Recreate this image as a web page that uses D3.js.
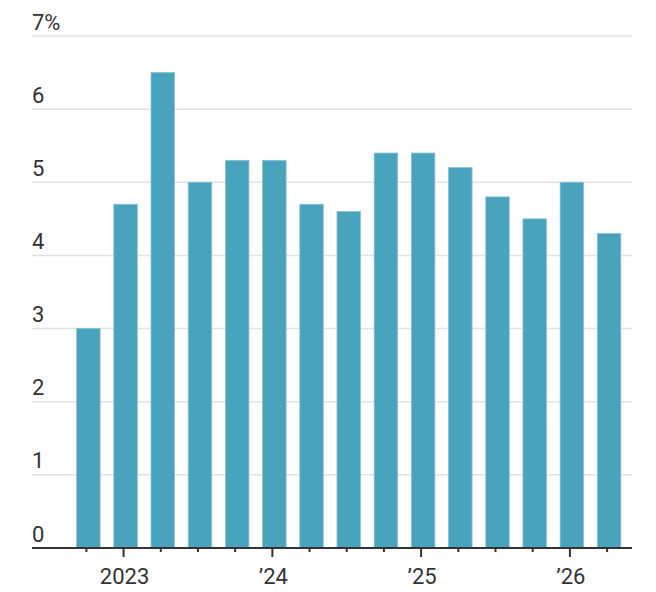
<!DOCTYPE html>
<html>
<head>
<meta charset="utf-8">
<script src="https://cdn.jsdelivr.net/npm/d3@7"></script>
<style>
  html, body { margin: 0; padding: 0; background: #fff; }
  svg { display: block; }
  text { font-family: Roboto, Lato, "Noto Sans", sans-serif; fill: #333; }
</style>
</head>
<body>
<svg id="chart" width="656" height="592"></svg>
<script>
// Quarterly values, Q4 2022 through Q2 2026
const quarters = ["2022Q4","2023Q1","2023Q2","2023Q3","2023Q4","2024Q1","2024Q2","2024Q3","2024Q4","2025Q1","2025Q2","2025Q3","2025Q4","2026Q1","2026Q2"];
const values = [3.0, 4.7, 6.5, 5.0, 5.3, 5.3, 4.7, 4.6, 5.4, 5.4, 5.2, 4.8, 4.5, 5.0, 4.3];
const yTicks = [0, 1, 2, 3, 4, 5, 6, 7];
const yearLabels = { "2023Q1": "2023", "2024Q1": "\u201924", "2025Q1": "\u201925", "2026Q1": "\u201926" };

(function () {
const svg = d3.select("#chart");
const pl = 32, pr = 632, pt = 36, pb = 548;

const x = d3.scaleBand()
  .domain(quarters)
  .range([pl, pr])
  .paddingInner(0.368)
  .paddingOuter(0.75)
  .align(0.8);

const y = d3.scaleLinear().domain([0, 7]).range([pb, pt]);

// gridlines
svg.append("g").selectAll("line")
  .data(yTicks.filter(d => d > 0))
  .join("line")
  .attr("x1", pl).attr("x2", pr)
  .attr("y1", d => y(d)).attr("y2", d => y(d))
  .attr("stroke", "#e2e2e2").attr("stroke-width", 1.5);

// y labels
svg.append("g").selectAll("text")
  .data(yTicks)
  .join("text")
  .attr("x", pl)
  .attr("y", d => y(d) - 6.5)
  .attr("font-size", 22)
  .text(d => d === 7 ? "7%" : d);

// bars
svg.append("g").selectAll("rect")
  .data(quarters.map((q, i) => ({ q, v: values[i] })))
  .join("rect")
  .attr("x", d => x(d.q))
  .attr("width", x.bandwidth())
  .attr("y", d => y(d.v))
  .attr("height", d => y(0) - y(d.v))
  .attr("fill", "#4aa3bc")
  .attr("stroke", "#86c3d3")
  .attr("stroke-width", 0.8);

// x axis line
svg.append("line")
  .attr("x1", pl).attr("x2", pr)
  .attr("y1", pb).attr("y2", pb)
  .attr("stroke", "#333").attr("stroke-width", 2);

// ticks
const tickX = q => x(q) + x.bandwidth() / 2 - 2;
svg.append("g").selectAll("line")
  .data(quarters)
  .join("line")
  .attr("x1", tickX).attr("x2", tickX)
  .attr("y1", pb)
  .attr("y2", q => yearLabels[q] ? pb + 9 : pb + 4)
  .attr("stroke", "#333").attr("stroke-width", 2);

// year labels
svg.append("g").selectAll("text")
  .data(quarters.filter(q => yearLabels[q]))
  .join("text")
  .attr("x", q => tickX(q) + 1)
  .attr("y", 584)
  .attr("text-anchor", "middle")
  .attr("font-size", 22)
  .text(q => yearLabels[q]);
})();
</script>
</body>
</html>
